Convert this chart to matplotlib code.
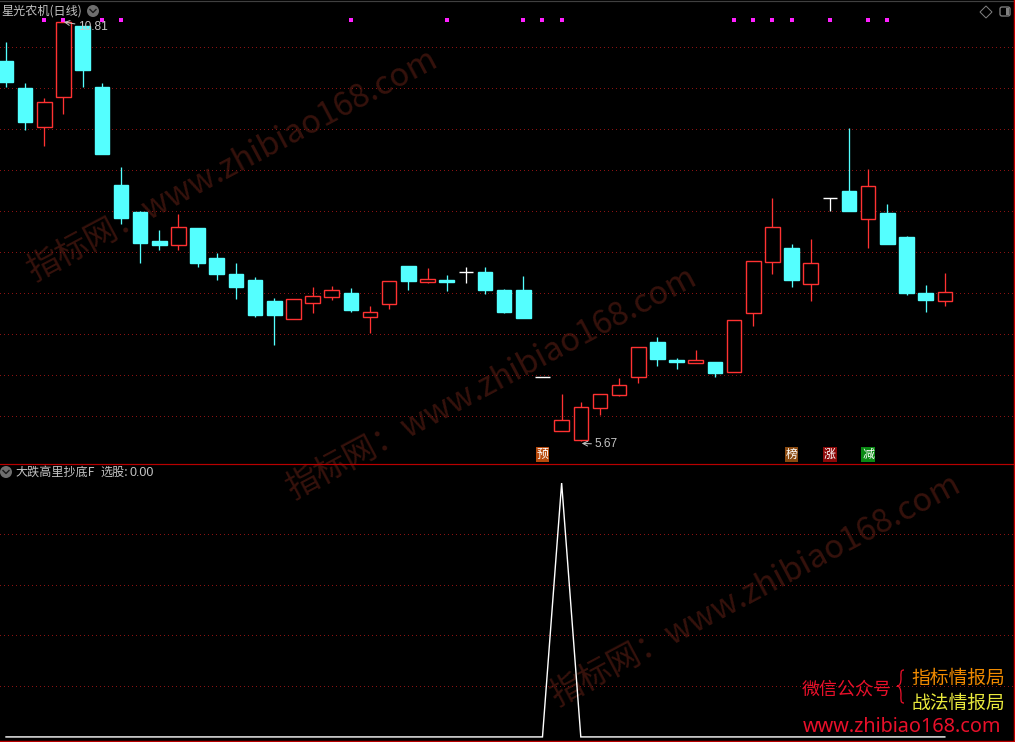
import numpy as np
import matplotlib
matplotlib.use("Agg")
import matplotlib.pyplot as plt
from matplotlib.patches import Circle, PathPatch, Polygon, FancyBboxPatch, Rectangle
from matplotlib.path import Path

plt.rcParams['font.family'] = ['Noto Sans CJK SC', 'DejaVu Sans']

# daily candles
opens = [10.33, 10.00, 9.52, 9.89, 10.76, 10.01, 8.81, 8.48, 8.12, 8.07,
         8.28, 7.92, 7.72, 7.65, 7.39, 7.17, 7.36, 7.44, 7.49, 7.19,
         7.35, 7.82, 7.62, 7.65, 7.74, 7.74, 7.52, 7.52, 6.46, 5.79,
         5.68, 6.08, 6.23, 6.46, 6.88, 6.66, 6.63, 6.64, 6.52, 7.24,
         7.87, 8.04, 7.60, 8.65, 8.74, 8.39, 8.47, 8.17, 7.49, 7.39]
closes = [10.07, 9.58, 9.83, 10.81, 10.22, 9.19, 8.41, 8.10, 8.07, 8.30,
          7.85, 7.72, 7.56, 7.22, 7.22, 7.41, 7.45, 7.52, 7.28, 7.25,
          7.63, 7.63, 7.66, 7.62, 7.74, 7.52, 7.25, 7.18, 6.46, 5.93,
          6.09, 6.25, 6.36, 6.82, 6.68, 6.64, 6.66, 6.50, 7.15, 7.88,
          8.30, 7.65, 7.85, 8.65, 8.49, 8.80, 8.09, 7.49, 7.40, 7.50]
highs = [10.56, 10.06, 9.88, 10.81, 10.76, 10.06, 9.03, 8.49, 8.26, 8.45,
         8.28, 7.98, 7.85, 7.68, 7.42, 7.41, 7.56, 7.57, 7.55, 7.33,
         7.63, 7.82, 7.79, 7.71, 7.80, 7.80, 7.53, 7.69, 6.46, 6.25,
         6.15, 6.25, 6.44, 6.82, 6.95, 6.69, 6.79, 6.64, 7.15, 7.88,
         8.65, 8.09, 8.15, 8.65, 9.51, 9.01, 8.58, 8.19, 7.58, 7.73]
lows = [10.01, 9.49, 9.29, 9.68, 10.01, 9.19, 8.33, 7.85, 8.01, 8.01,
        7.80, 7.65, 7.41, 7.19, 6.85, 7.17, 7.24, 7.40, 7.25, 7.00,
        7.29, 7.52, 7.61, 7.51, 7.61, 7.47, 7.24, 7.18, 6.46, 5.79,
        5.67, 5.99, 6.22, 6.38, 6.59, 6.55, 6.63, 6.46, 6.52, 7.08,
        7.72, 7.56, 7.39, 8.49, 8.49, 8.04, 8.09, 7.46, 7.25, 7.33]
price_grid = [10.50, 10.00, 9.50, 8.99, 8.49, 7.99, 7.49, 6.98, 6.48, 5.98]

signal_days = [2, 3, 5, 6, 18, 23, 27, 28, 29, 38, 39, 40, 41, 43, 45, 46]
tag_days = [28, 41, 43, 45]
tag_text = ['预', '榜', '涨', '减']
tag_colors = ['#b84a0c', '#8a4a10', '#8c0808', '#0a8a14']

pick = [0] * 29 + [1] + [0] * 20
pick_grid = [0.2, 0.4, 0.6, 0.8]

W, H = 1015, 742
RED = '#ff3232'
CYAN = '#54ffff'
GRID = '#8a1212'
GRAY = '#c4c4c4'
px = 0.72

fig = plt.figure(figsize=(W / 100, H / 100), dpi=100, facecolor='black')

# watermark sits under everything
bg = fig.add_axes([0, 0, 1, 1], zorder=0)
bg.set_xlim(0, W)
bg.set_ylim(H, 0)
bg.axis('off')
for cx, cy in [(232, 165), (491, 383), (755, 590)]:
    bg.text(cx, cy, '指标网：www.zhibiao168.com', color='#36120c', fontsize=23.5,
            rotation=28, rotation_mode='anchor', ha='center', va='center')

days = np.arange(len(opens))
xlim = (-6 / 19.16, (W - 6) / 19.16)

ax = fig.add_axes([0, (H - 463) / H, 1, 463 / H], zorder=1)
ax.patch.set_alpha(0)
ax.set_xlim(xlim)
ax.set_ylim(5.40, 11.08)
ax.set_xticks([])
ax.set_yticks(price_grid)
ax.tick_params(length=0, labelleft=False)
ax.grid(axis='y', color=GRID, lw=px, ls=(0, (1, 3)), antialiased=False)
ax.set_axisbelow(True)

for d, o, c, h, l in zip(days, opens, closes, highs, lows):
    if c > o:
        col, face = RED, 'black'
    elif c < o:
        col, face = CYAN, CYAN
    else:
        col, face = 'white', 'white'
    ax.vlines(d, l, h, color=col, lw=px * 1.3, zorder=2)
    ax.bar(d, c - o, bottom=o, width=0.76, facecolor=face, edgecolor=col, lw=px * 1.4, zorder=3)

ax.scatter(days[signal_days], [10.83] * len(signal_days), marker='s', s=6, color='#ff20ff', lw=0, zorder=4)

for d, t, col in zip(tag_days, tag_text, tag_colors):
    ax.text(d, 5.50, t, color='white', fontsize=8.6, ha='center', va='center', zorder=4,
            bbox=dict(boxstyle='square,pad=0.08', fc=col, ec='none'))

ax.annotate('10.81', xy=(3.02, 10.81), xytext=(3.74, 10.75), color=GRAY, fontsize=8.6, family='Liberation Sans',
            va='center', ha='left', zorder=5, arrowprops=dict(arrowstyle='->', color=GRAY, lw=px, shrinkA=0, shrinkB=0))
ax.annotate('5.67', xy=(30.05, 5.64), xytext=(30.7, 5.63), color=GRAY, fontsize=8.6, family='Liberation Sans',
            va='center', ha='left', zorder=5, arrowprops=dict(arrowstyle='->', color=GRAY, lw=px, shrinkA=0, shrinkB=0))

ax2 = fig.add_axes([0, 0, 1, (H - 464) / H], zorder=1)
ax2.patch.set_alpha(0)
ax2.set_xlim(xlim)
ax2.set_ylim(-0.02, 1.075)
ax2.set_xticks([])
ax2.set_yticks(pick_grid)
ax2.tick_params(length=0, labelleft=False)
ax2.grid(axis='y', color=GRID, lw=px, ls=(0, (1, 3)), antialiased=False)
ax2.set_axisbelow(True)
ax2.plot(days, pick, color='white', lw=px * 1.4, solid_joinstyle='miter', zorder=3)

for a in (ax, ax2):
    for s in a.spines.values():
        s.set_visible(False)

# titles, icons, frame and the corner advert
ov = fig.add_axes([0, 0, 1, 1], zorder=5)
ov.patch.set_alpha(0)
ov.set_xlim(0, W)
ov.set_ylim(H, 0)
ov.axis('off')

ov.plot([0, W], [1, 1], color='#404040', lw=px * 1.2)
ov.plot([0, W], [463.5, 463.5], color='#b80000', lw=px * 1.2)
ov.plot([0, W], [740.5, 740.5], color='#b80000', lw=px * 1.4)
ov.plot([1014, 1014], [0, H], color='#c80000', lw=px * 1.4)

ov.text(1, 11, '星光农机(日线)', color=GRAY, fontsize=8.7, va='center', ha='left')
ov.text(15.5, 472.5, '大跌高里抄底F', color=GRAY, fontsize=8.7, va='center', ha='left')
ov.text(100, 472.5, '选股:', color=GRAY, fontsize=8.7, va='center', ha='left')
ov.text(130, 472.5, '0.00', color=GRAY, fontsize=9, va='center', ha='left', family='Liberation Sans')

for cx, cy in [(93, 11), (6, 472)]:
    ov.add_patch(Circle((cx, cy), 6, fc='#6e6e6e', ec='none'))
    ov.plot([cx - 3, cx, cx + 3], [cy - 1.5, cy + 1.5, cy - 1.5], color='#1a1a1a', lw=px * 1.4)

ov.add_patch(Polygon([(986, 6), (992, 12), (986, 18), (980, 12)], fc='none', ec='#808080', lw=px))
ov.add_patch(FancyBboxPatch((1000, 7), 10, 9, boxstyle='round,pad=0,rounding_size=2', fc='none', ec='#808080', lw=px * 1.3))
ov.add_patch(Rectangle((1006, 8), 3, 7, fc='#808080', ec='none'))

ov.text(847, 689.5, '微信公众号', color='#e8102a', fontsize=13.0, ha='center', va='center')
ov.text(958, 678, '指标情报局', color='#f08a00', fontsize=13.5, ha='center', va='center')
ov.text(958, 703, '战法情报局', color='#e8e83c', fontsize=13.5, ha='center', va='center')
ov.text(902, 727.5, 'www.zhibiao168.com', color='#e8102a', fontsize=14.3, ha='center', va='center', family='Noto Sans')

brace = [(904, 670), (900, 670), (901, 674), (901, 678), (901, 683), (900, 686), (897, 686),
         (900, 686), (901, 690), (901, 695), (901, 699), (900, 703), (904, 703)]
codes = [Path.MOVETO] + [Path.CURVE4] * 12
ov.add_patch(PathPatch(Path(brace, codes), fc='none', ec='#e8102a', lw=px * 1.3))

fig.savefig('out.png', dpi=100, facecolor='black')
